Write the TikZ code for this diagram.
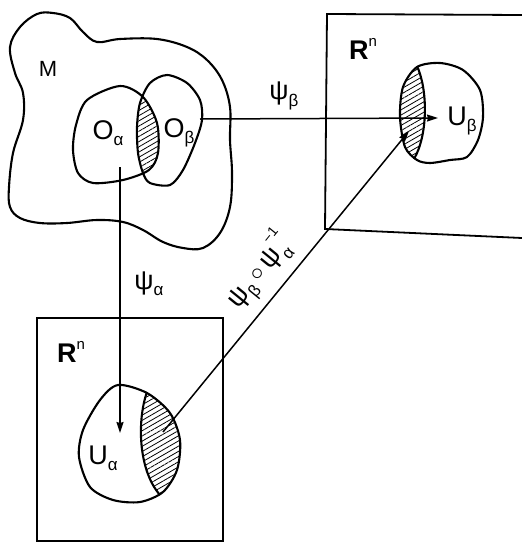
\documentclass[tikz,border=0pt]{standalone}
\usepackage{fontspec}
\setmainfont{Liberation Sans}
\usetikzlibrary{arrows.meta,patterns.meta}
\tikzset{
  outline/.style={line width=2.1pt,line join=round},
  frame/.style={line width=1.8pt},
  map/.style={line width=1.5pt,-{Stealth[length=11pt,width=7pt,inset=1pt]}},
  hatch/.style={pattern={Lines[angle=30,distance=4.5pt,line width=0.8pt]}},
  lbl/.style={inner sep=0pt,font=\fontsize{27}{30}\selectfont},
  biglbl/.style={inner sep=0pt,font=\fontsize{27}{30}\selectfont\bfseries},
}
\newcommand\sbs[1]{\raisebox{-0.45ex}{\fontsize{17}{20}\selectfont #1}}
\newcommand\sps[1]{\raisebox{0.9ex}{\fontsize{15}{18}\selectfont #1}}
\newcommand\hsps[1]{\raisebox{1.25ex}{\fontsize{14}{16}\selectfont #1}}
\newcommand\lsbs[1]{\raisebox{-0.6ex}{\fontsize{17}{20}\selectfont #1}}
\begin{document}
\begin{tikzpicture}[x=1pt,y=-1pt]
\useasboundingbox (0,0) rectangle (522,544);
% manifold M
\draw[outline] plot[smooth cycle,tension=0.6] coordinates {
 (10,47) (20,27) (37,14) (53,13) (70,18) (83,32) (97,42) (120,39) (157,39)
 (187,47) (207,60) (222,80) (230,107) (230,140) (232,173) (230,207) (220,233)
 (203,248) (183,248) (163,242) (143,230) (123,222) (97,220) (67,223) (40,223)
 (20,218) (10,207) (9,187) (13,153) (23,120) (23,93) (15,73)};
\node[lbl,font=\fontsize{22}{24}\selectfont] (M) at (48,69) {M};
% hatched overlap of O_alpha and O_beta
\begin{scope}
 \clip plot[smooth cycle] coordinates {(120,86) (143,97) (157,123) (158,153) (149,170) (123,180) (93,183) (78,173) (73,150) (76,125) (87,100)};
 \fill[hatch] plot[smooth cycle] coordinates {(167,75) (187,83) (200,100) (202,120) (195,143) (183,170) (170,185) (150,183) (143,173) (138,153) (137,127) (140,103) (150,83)};
\end{scope}
\draw[outline] plot[smooth cycle] coordinates {(120,86) (143,97) (157,123) (158,153) (149,170) (123,180) (93,183) (78,173) (73,150) (76,125) (87,100)};
\draw[outline] plot[smooth cycle] coordinates {(167,75) (187,83) (200,100) (202,120) (195,143) (183,170) (170,185) (150,183) (143,173) (138,153) (137,127) (140,103) (150,83)};
\node[lbl] (Oa) at (108,133) {O\sbs{α}};
\node[lbl] (Ob) at (179,133) {O\sbs{β}};
% top-right R^n
\draw[frame] (522,15) -- (327,14) -- (325,229) -- (522,238);
\node[biglbl] (Rb) at (363,49) {R\sps{\mdseries n}};
% U_beta
\begin{scope}
 \clip plot[smooth cycle] coordinates {(417,67) (440,63) (463,70) (480,90) (483,117) (478,140) (467,157) (450,160) (430,163) (417,160) (405,147) (400,117) (403,87)};
 \fill[hatch] (417,66) .. controls (428,90) and (428,135) .. (414,159) -- (380,170) -- (380,55) -- cycle;
\end{scope}
\draw[outline] plot[smooth cycle] coordinates {(417,67) (440,63) (463,70) (480,90) (483,117) (478,140) (467,157) (450,160) (430,163) (417,160) (405,147) (400,117) (403,87)};
\draw[outline] (417,66) .. controls (428,90) and (428,135) .. (414,159);
\node[lbl] (Ub) at (462,121) {U\sbs{β}};
% bottom-left R^n
\draw[frame] (37,318) rectangle (223,541);
\node[biglbl] (Ra) at (71,352) {R\sps{\mdseries n}};
% U_alpha
\begin{scope}
 \clip plot[smooth cycle] coordinates {(118,385) (147,393) (170,413) (180,440) (177,470) (163,492) (140,502) (113,500) (90,487) (79,457) (83,430) (100,400)};
 \fill[hatch] (147,392) .. controls (137,420) and (138,470) .. (160,495) -- (200,500) -- (200,380) -- cycle;
\end{scope}
\draw[outline] plot[smooth cycle] coordinates {(118,385) (147,393) (170,413) (180,440) (177,470) (163,492) (140,502) (113,500) (90,487) (79,457) (83,430) (100,400)};
\draw[outline] (147,392) .. controls (137,420) and (138,470) .. (160,495);
\node[lbl] (Ua) at (103,458) {U\sbs{α}};
% maps
\coordinate (pb0) at (200,119);
\coordinate (pb1) at (438,118);
\coordinate (pa0) at (120,167);
\coordinate (pa1) at (120,433);
\coordinate (pc0) at (163,432);
\coordinate (pc1) at (409,131);
\draw[map] (pb0) -- (pb1);
\draw[map] (pa0) -- (pa1);
\draw[map] (pc0) -- (pc1);
\node[lbl] (lb) at (284,96) {ψ\sbs{β}};
\node[lbl] (la) at (149,284) {ψ\sbs{α}};
\node[lbl,rotate=51] (lc) at (257,273) {ψ\sbs{β}\,\raisebox{0.1ex}{$\circ$}\,ψ\rlap{\hsps{−1}}\lsbs{α}};
\end{tikzpicture}
\end{document}
